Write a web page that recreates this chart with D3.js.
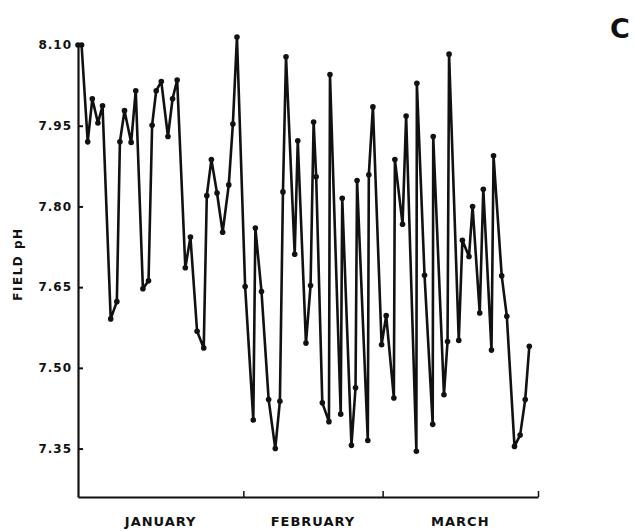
<!DOCTYPE html>
<html>
<head>
<meta charset="utf-8">
<title>Field pH</title>
<script src="https://cdn.jsdelivr.net/npm/d3@7"></script>
<style>
  body { margin: 0; background: #fff; }
  svg text { font-family: "DejaVu Sans", "Liberation Sans", Arial, sans-serif; font-weight: bold; fill: #111; }
</style>
</head>
<body>
<div id="visualization"></div>
<script>
// Sampling day (counted from Jan 1) and field pH
var days = [0, 0.7, 1.9, 2.8, 3.9, 4.8, 6.4, 7.6, 8.2, 9.1, 10.4, 11.3, 12.7, 13.8, 14.5,
  15.3, 16.3, 17.6, 18.5, 19.4, 21.0, 22.0, 23.3, 24.6, 25.2, 26.1, 27.2, 28.3, 29.5,
  30.3, 31.1, 32.7, 34.3, 34.7, 35.9, 37.3, 38.6, 39.5, 40.1, 40.7, 42.4, 43.0, 44.6,
  45.5, 46.1, 46.6, 47.8, 49.1, 49.3, 51.4, 51.7, 53.5, 54.3, 54.6, 56.7, 56.9, 57.7,
  59.4, 60.3, 61.8, 62.0, 63.5, 64.2, 66.2, 66.3, 67.8, 69.4, 69.5, 71.6, 72.3, 72.6,
  74.5, 75.2, 76.5, 77.2, 78.6, 79.3, 80.9, 81.3, 82.9, 83.9, 85.4, 86.5, 87.5, 88.3];
var fieldPH = [8.10, 8.10, 7.92, 8.00, 7.955, 7.987, 7.591, 7.623, 7.92, 7.978, 7.919, 8.015, 7.647, 7.662, 7.951,
  8.015, 8.032, 7.930, 8.00, 8.035, 7.686, 7.743, 7.568, 7.537, 7.820, 7.887, 7.825, 7.752, 7.840,
  7.953, 8.115, 7.651, 7.403, 7.760, 7.642, 7.441, 7.350, 7.438, 7.827, 8.078, 7.711, 7.922, 7.546,
  7.653, 7.957, 7.855, 7.435, 7.400, 8.045, 7.414, 7.815, 7.356, 7.463, 7.848, 7.365, 7.859, 7.985,
  7.543, 7.597, 7.444, 7.887, 7.767, 7.968, 7.345, 8.029, 7.672, 7.395, 7.930, 7.450, 7.549, 8.083,
  7.551, 7.737, 7.707, 7.800, 7.602, 7.832, 7.533, 7.894, 7.671, 7.596, 7.354, 7.375, 7.441, 7.540];

var yTicks = [7.35, 7.50, 7.65, 7.80, 7.95, 8.10];
var monthNames = ["JANUARY", "FEBRUARY", "MARCH"];
var monthBounds = [0, 32.35, 59.6, 90];

var width = 635, height = 531;
var svg = d3.select("#visualization").append("svg")
  .attr("width", width)
  .attr("height", height);

var x = d3.scaleLinear().domain([0, 90]).range([78, 538]);
var y = d3.scaleLinear().domain([7.26, 8.10]).range([497, 45]);

var data = days.map(function (d, i) { return { day: d, ph: fieldPH[i] }; });

// y axis: ticks point into the plot, labels spaced out like the original
var yAxis = svg.append("g")
  .attr("transform", "translate(" + x(0) + ",0)")
  .call(d3.axisLeft(y).tickValues(yTicks).tickFormat(d3.format(".2f"))
    .tickSizeInner(-5).tickSizeOuter(0).tickPadding(8));
yAxis.select(".domain").attr("stroke", "#111").attr("stroke-width", 2.2);
yAxis.selectAll(".tick line").attr("stroke", "#111").attr("stroke-width", 2);
yAxis.selectAll(".tick text")
  .attr("x", -6)
  .style("font-size", "12px")
  .style("letter-spacing", "1px");

// x axis: plain baseline with small upward ticks at month boundaries
var xAxis = svg.append("g")
  .attr("transform", "translate(0," + y(7.26) + ")")
  .call(d3.axisBottom(x).tickValues(monthBounds.slice(1)).tickFormat("")
    .tickSizeInner(-6).tickSizeOuter(0));
xAxis.select(".domain").attr("stroke", "#111").attr("stroke-width", 2.2);
xAxis.selectAll(".tick line").attr("stroke", "#111").attr("stroke-width", 1.5);

svg.selectAll("text.month")
  .data(monthNames)
  .enter()
  .append("text")
    .attr("class", "month")
    .attr("x", function (d, i) { return x((monthBounds[i] + monthBounds[i + 1]) / 2); })
    .attr("y", 526)
    .attr("text-anchor", "middle")
    .style("font-size", "13px")
    .style("letter-spacing", "1px")
    .text(function (d) { return d; });

// axis title
svg.append("text")
  .attr("transform", "translate(22,264) rotate(-90)")
  .attr("text-anchor", "middle")
  .style("font-size", "12px")
  .style("letter-spacing", "1.5px")
  .text("FIELD pH");

// panel letter
svg.append("text")
  .attr("x", 620)
  .attr("y", 38)
  .attr("text-anchor", "middle")
  .style("font-size", "27px")
  .text("C");

// the series
var line = d3.line()
  .x(function (d) { return x(d.day); })
  .y(function (d) { return y(d.ph); });

svg.append("path")
  .datum(data)
  .attr("d", line)
  .attr("fill", "none")
  .attr("stroke", "#111")
  .attr("stroke-width", 2.6)
  .attr("stroke-linejoin", "round");

svg.selectAll("circle.pt")
  .data(data)
  .enter()
  .append("circle")
    .attr("class", "pt")
    .attr("cx", function (d) { return x(d.day); })
    .attr("cy", function (d) { return y(d.ph); })
    .attr("r", 2.8)
    .attr("fill", "#111");
</script>
</body>
</html>
